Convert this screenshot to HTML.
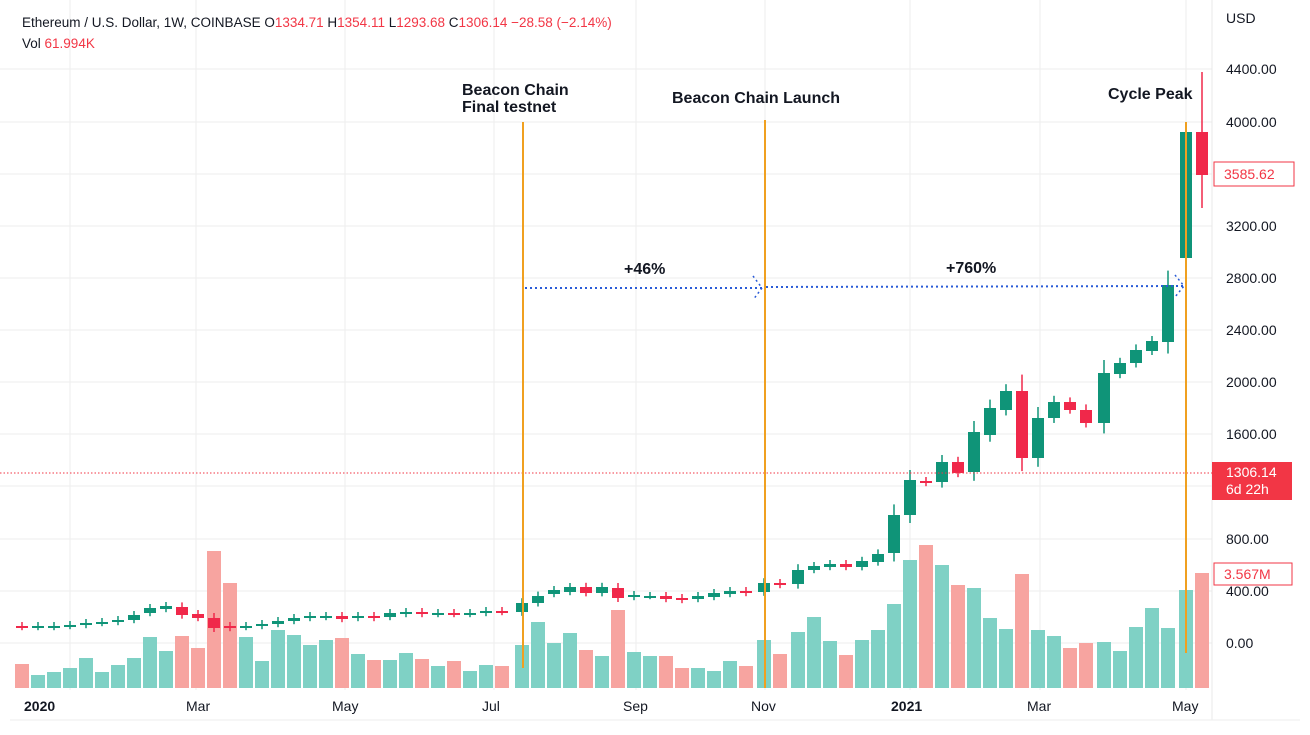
<!DOCTYPE html>
<html><head><meta charset="utf-8"><style>
body{margin:0;background:#fff;width:1310px;height:735px;overflow:hidden;font-family:"Liberation Sans",sans-serif}
svg{display:block}
</style></head><body>
<svg id="s" width="1310" height="735" xmlns="http://www.w3.org/2000/svg" font-family="Liberation Sans, sans-serif">
<g stroke="#eeeeee" stroke-width="1">
<line x1="0" y1="69" x2="1212" y2="69"/><line x1="0" y1="122" x2="1212" y2="122"/><line x1="0" y1="174" x2="1212" y2="174"/><line x1="0" y1="226" x2="1212" y2="226"/><line x1="0" y1="278" x2="1212" y2="278"/><line x1="0" y1="330" x2="1212" y2="330"/><line x1="0" y1="382" x2="1212" y2="382"/><line x1="0" y1="434" x2="1212" y2="434"/><line x1="0" y1="486" x2="1212" y2="486"/><line x1="0" y1="539" x2="1212" y2="539"/><line x1="0" y1="591" x2="1212" y2="591"/><line x1="0" y1="643" x2="1212" y2="643"/>
<line x1="70" y1="0" x2="70" y2="690"/><line x1="196" y1="0" x2="196" y2="690"/><line x1="345" y1="0" x2="345" y2="690"/><line x1="494" y1="0" x2="494" y2="690"/><line x1="636" y1="0" x2="636" y2="690"/><line x1="765" y1="0" x2="765" y2="690"/><line x1="910" y1="0" x2="910" y2="690"/><line x1="1040" y1="0" x2="1040" y2="690"/><line x1="1186" y1="0" x2="1186" y2="690"/>
</g>
<line x1="1212" y1="0" x2="1212" y2="720" stroke="#e8e8e8"/>
<line x1="10" y1="720" x2="1300" y2="720" stroke="#eee"/>
<g id="vol"></g>
<g id="cnd"></g>
<line x1="0" y1="473" x2="1212" y2="473" stroke="#f23645" stroke-dasharray="1.5,2" stroke-width="1"/>
<g stroke="#f0a020" stroke-width="2">
<line x1="523" y1="122" x2="523" y2="668"/><line x1="765" y1="120" x2="765" y2="688"/><line x1="1186" y1="122" x2="1186" y2="653"/>
</g>
<g stroke="#2a5bd7" stroke-width="2" stroke-dasharray="2,3" fill="none">
<line x1="525" y1="288" x2="762" y2="288"/><line x1="766" y1="287" x2="1183" y2="286"/>
<polyline points="753,276 762,288 753,300" stroke-width="1.5"/>
<polyline points="1175,275 1184,286 1175,297" stroke-width="1.5"/>
</g>
<g font-weight="bold" font-size="16" fill="#131722">
<text x="462" y="95">Beacon Chain</text><text x="462" y="112">Final testnet</text>
<text x="672" y="103">Beacon Chain Launch</text>
<text x="1108" y="99">Cycle Peak</text>
<text x="624" y="274">+46%</text><text x="946" y="273">+760%</text>
</g>
<text x="22" y="27" font-size="13.5" fill="#131722">Ethereum / U.S. Dollar, 1W, COINBASE  <tspan>O</tspan><tspan fill="#f23645">1334.71</tspan>  H<tspan fill="#f23645">1354.11</tspan>  L<tspan fill="#f23645">1293.68</tspan>  C<tspan fill="#f23645">1306.14</tspan>  <tspan fill="#f23645">−28.58 (−2.14%)</tspan></text>
<text x="22" y="48" font-size="13.5" fill="#131722">Vol  <tspan fill="#f23645">61.994K</tspan></text>
<g font-size="14" fill="#131722">
<text x="1226" y="23">USD</text>
<text x="1226" y="74">4400.00</text><text x="1226" y="127">4000.00</text><text x="1226" y="231">3200.00</text><text x="1226" y="283">2800.00</text><text x="1226" y="335">2400.00</text><text x="1226" y="387">2000.00</text><text x="1226" y="439">1600.00</text><text x="1226" y="544">800.00</text><text x="1226" y="596">400.00</text><text x="1226" y="648">0.00</text>
</g>
<rect x="1214" y="162" width="80" height="24" fill="#fff" stroke="#f23645"/>
<text x="1224" y="179" font-size="14" fill="#f23645">3585.62</text>
<rect x="1212" y="462" width="80" height="38" fill="#f23645"/>
<text x="1226" y="477" font-size="14" fill="#fff">1306.14</text><text x="1226" y="494" font-size="14" fill="#fff">6d 22h</text>
<rect x="1214" y="563" width="78" height="22" fill="#fff" stroke="#f23645"/>
<text x="1224" y="579" font-size="14" fill="#f23645">3.567M</text>
<g font-size="14" fill="#131722">
<text x="24" y="711" font-weight="bold">2020</text><text x="186" y="711">Mar</text><text x="332" y="711">May</text><text x="482" y="711">Jul</text><text x="623" y="711">Sep</text><text x="751" y="711">Nov</text><text x="891" y="711" font-weight="bold">2021</text><text x="1027" y="711">Mar</text><text x="1172" y="711">May</text>
</g>
</svg>
<script>
var d=[[22,626,627,'r',664],[38,626,627,'g',675],[54,626,627,'g',672],[70,626,625,'g',668],[86,625,623,'g',658],[102,623,622,'g',672],[118,622,620,'g',665],[134,620,615,'g',658],[150,613,608,'g',637],[166,609,606,'g',651],[182,607,615,'r',636],[198,614,618,'r',648],[214,618,628,'r',551],[230,626,628,'r',583],[246,627,626,'g',637],[262,626,624,'g',661],[278,624,621,'g',630],[294,621,618,'g',635],[310,618,616,'g',645],[326,617,616,'g',640],[342,616,619,'r',638],[358,618,616,'g',654],[374,616,618,'r',660],[390,617,613,'g',660],[406,614,612,'g',653],[422,612,614,'r',659],[438,613,614,'g',666],[454,613,614,'r',661],[470,614,613,'g',671],[486,613,611,'g',665],[502,611,612,'r',666],[522,612,603,'g',645],[538,603,596,'g',622],[554,594,590,'g',643],[570,592,587,'g',633],[586,587,593,'r',650],[602,593,587,'g',656],[618,588,598,'r',610],[634,597,595,'g',652],[650,596,596,'g',656],[666,596,599,'r',656],[682,598,600,'r',668],[698,599,596,'g',668],[714,597,593,'g',671],[730,594,591,'g',661],[746,591,593,'r',666],[764,592,583,'g',640],[780,583,585,'r',654],[798,584,570,'g',632],[814,570,566,'g',617],[830,567,564,'g',641],[846,564,567,'r',655],[862,567,561,'g',640],[878,562,554,'g',630],[894,553,515,'g',604],[910,515,480,'g',560],[926,481,483,'r',545],[942,482,462,'g',565],[958,462,473,'r',585],[974,472,432,'g',588],[990,435,408,'g',618],[1006,410,391,'g',629],[1022,391,458,'r',574],[1038,458,418,'g',630],[1054,418,402,'g',636],[1070,402,410,'r',648],[1086,410,423,'r',643],[1104,423,373,'g',642],[1120,374,363,'g',651],[1136,363,350,'g',627],[1152,351,341,'g',608],[1168,342,285,'g',628],[1186,258,132,'g',590,125,262],[1202,132,175,'r',573,72,208]];
var v='',c='';d.forEach(function(e,i){var x=e[0],t=Math.min(e[1],e[2]),b=Math.max(e[1],e[2]),g=e[3]=='g';
v+='<rect x="'+(x-7)+'" y="'+e[4]+'" width="14" height="'+(688-e[4])+'" fill="'+(g?'#7fd1c5':'#f7a4a0')+'"/>';
var col=g?'#0f9478':'#f0284a';var h=Math.max(4,(b-t)*0.2+3);
var wt=e[5]!==undefined?e[5]:t-h, wb=e[6]!==undefined?e[6]:b+h*0.8;
c+='<line x1="'+x+'" x2="'+x+'" y1="'+wt+'" y2="'+wb+'" stroke="'+col+'" stroke-width="1.5"/>';
c+='<rect x="'+(x-6)+'" y="'+t+'" width="12" height="'+Math.max(2,b-t)+'" fill="'+col+'"/>';});
document.getElementById('vol').innerHTML=v;document.getElementById('cnd').innerHTML=c;
</script>
</body></html>
